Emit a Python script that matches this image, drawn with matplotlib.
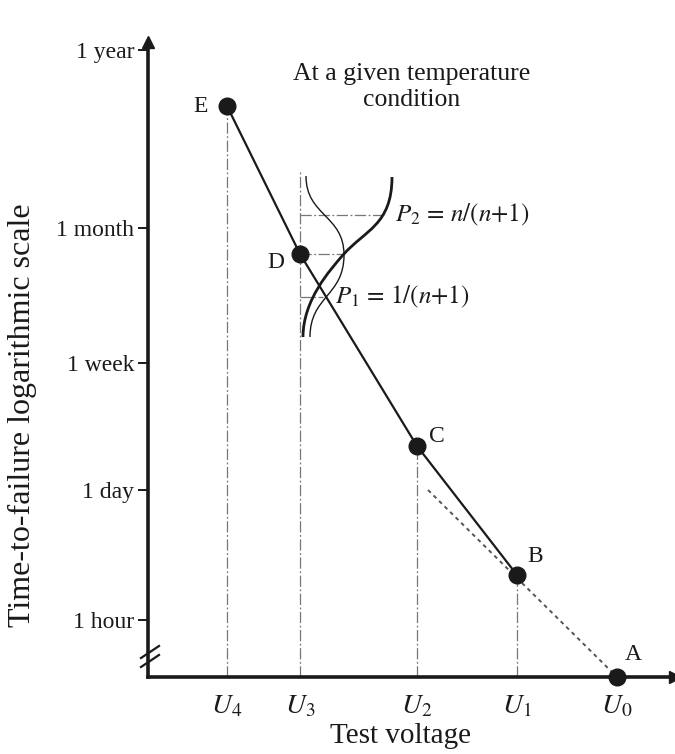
import matplotlib
matplotlib.use('Agg')
import matplotlib.pyplot as plt
from matplotlib.path import Path
from matplotlib.patches import PathPatch

plt.rcParams['font.family'] = ['Liberation Serif', 'DejaVu Serif']
plt.rcParams['mathtext.fontset'] = 'stix'

# ---------------- data (schematic units) ----------------
voltage_labels = [r'$U_4$', r'$U_3$', r'$U_2$', r'$U_1$', r'$U_0$']
voltage_pos = [79, 152, 269, 369, 469]

time_labels = ['1 hour', '1 day', '1 week', '1 month', '1 year']
time_pos = [57, 187, 314, 449, 627]

point_names = ['E', 'D', 'C', 'B', 'A']
point_x = [79, 152, 269, 369, 469]
point_y = [571, 423, 231, 102, 0]

# extrapolated (dotted) line toward A
extrap_x = [280, 469]
extrap_y = [187, 0]

# vertical guide tops (from the voltage axis)
guide_x = [79, 152, 269, 369]
guide_top = [571, 506, 231, 102]

# horizontal guides at U3: P2 level, D level, P1 level
hguide_y = [462, 423, 380]
hguide_end = [237, 195, 175]

# distribution curves (cubic Bezier control points)
pdf_ctrl_x = [158, 158, 196, 196, 196, 162, 162]
pdf_ctrl_y = [501, 461, 462, 422, 381, 381, 340]
cdf_ctrl_x = [155, 155, 182, 195, 217, 244, 244]
cdf_ctrl_y = [340, 377, 407, 422, 447, 452, 500]

# ---------------- figure ----------------
W, H = 675, 754
fig = plt.figure(figsize=(W / 100, H / 100), dpi=100)
ax = fig.add_axes([148 / W, 77 / H, 527 / W, 635 / H])
ax.set_xlim(0, 527)
ax.set_ylim(0, 635)

ink = '#1a1a1a'
for s in ['top', 'right']:
    ax.spines[s].set_visible(False)
for s in ['left', 'bottom']:
    ax.spines[s].set_linewidth(2.6)
    ax.spines[s].set_color(ink)

ax.set_yticks(time_pos)
ax.set_yticklabels(time_labels)
ax.tick_params(axis='y', direction='out', length=7, width=1.4, color=ink,
               labelsize=17, pad=3, labelcolor=ink)
ax.set_xticks(voltage_pos)
ax.set_xticklabels(voltage_labels)
ax.tick_params(axis='x', length=0, labelsize=20, pad=12, labelcolor=ink)

# axis arrows
ax.plot([0], [1], marker='^', ms=9, color=ink, transform=ax.transAxes, clip_on=False)
ax.plot([1], [0], marker='>', ms=9, color=ink, transform=ax.transAxes, clip_on=False)

# axis break marks
for dy in [0, 9]:
    ax.plot([-7, 11], [10 + dy, 22 + dy], color=ink, lw=1.6, clip_on=False)

# vertical guides
for gx, gt in zip(guide_x, guide_top):
    ax.plot([gx, gx], [0, gt], color='#777777', lw=0.9,
            linestyle=(0, (9, 2, 1.5, 2)), zorder=1)

# horizontal guides
for hy, he in zip(hguide_y, hguide_end):
    ax.plot([voltage_pos[1], he], [hy, hy], color='#777777', lw=0.9,
            linestyle=(0, (9, 2, 1.5, 2)), zorder=1)

# main line E-D-C-B
ax.plot(point_x[:4], point_y[:4], color=ink, lw=1.6, zorder=2)
# extrapolated dotted line
ax.plot(extrap_x, extrap_y, color='#555555', lw=1.4, linestyle=(0, (2, 2)), zorder=2)

# distribution curves
codes = [Path.MOVETO] + [Path.CURVE4] * 6
pdf_path = Path(list(zip(pdf_ctrl_x, pdf_ctrl_y)), codes)
cdf_path = Path(list(zip(cdf_ctrl_x, cdf_ctrl_y)), codes)
ax.add_patch(PathPatch(pdf_path, fill=False, lw=1.0, edgecolor=ink, zorder=3))
ax.add_patch(PathPatch(cdf_path, fill=False, lw=2.0, edgecolor=ink, zorder=3))

# points
ax.plot(point_x, point_y, 'o', ms=12, color=ink, zorder=5, clip_on=False)

# point labels
label_dx = [-26, -24, 20, 18, 16]
label_dy = [-1, -8, 10, 19, 22]
for n, x, y, dx, dy in zip(point_names, point_x, point_y, label_dx, label_dy):
    ax.text(x + dx, y + dy, n, fontsize=17, ha='center', va='center', color=ink)

ax.text(247, 462, r'$P_2\,=\,n/(n{+}1)$', fontsize=18, ha='left', va='center', color=ink)
ax.text(187, 380, r'$P_1\,=\,1/(n{+}1)$', fontsize=18, ha='left', va='center', color=ink)

ax.text(264, 590, 'At a given temperature\ncondition', fontsize=18.5,
        ha='center', va='center', color=ink, linespacing=1.2)

fig.text(22 / W, 1 - 415 / H, 'Time-to-failure logarithmic scale', rotation=90,
         fontsize=23, ha='center', va='center', color=ink)
fig.text(400 / W, 1 - 736 / H, 'Test voltage', fontsize=21, ha='center',
         va='center', color=ink)

fig.savefig('out.png', dpi=100)
